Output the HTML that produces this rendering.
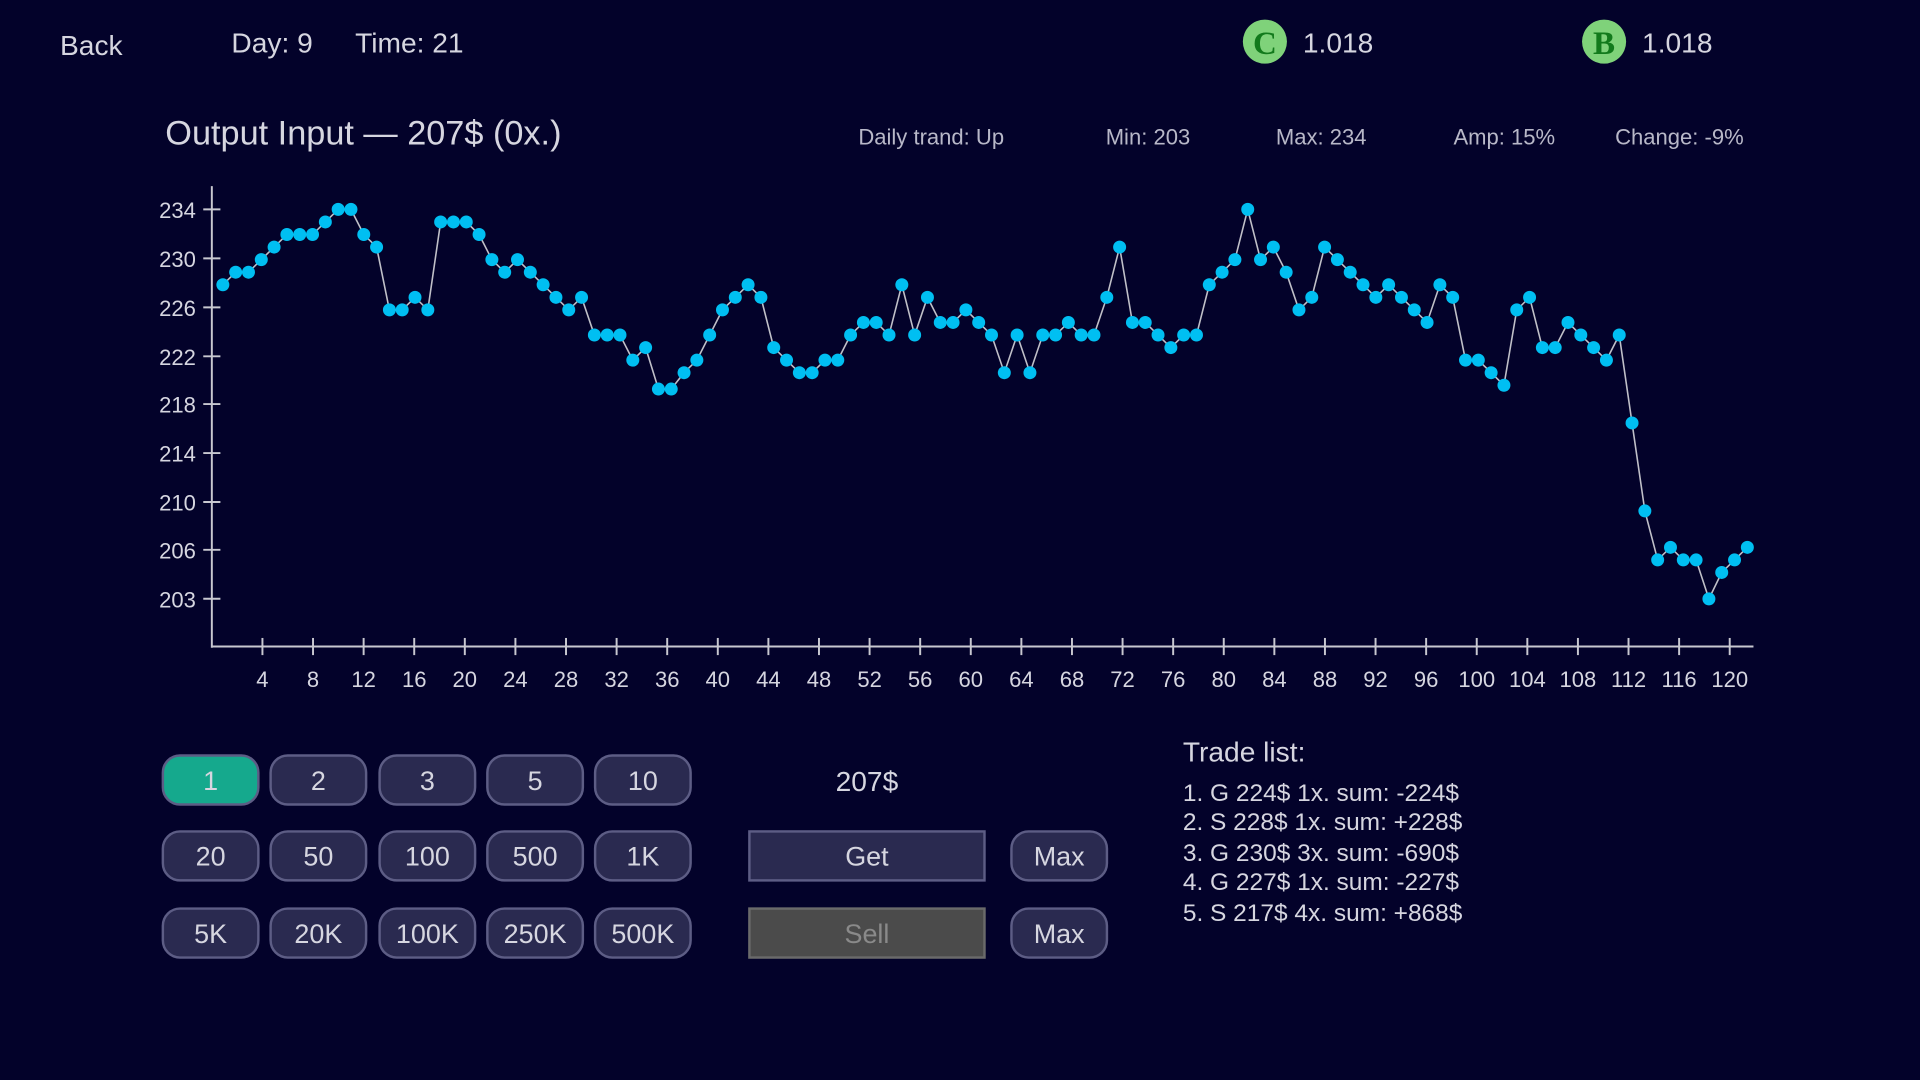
<!DOCTYPE html>
<html><head><meta charset="utf-8"><style>
html,body{margin:0;padding:0;background:#03022a;overflow:hidden}
svg{display:block}
text{font-family:"Liberation Sans",sans-serif;fill:#d6d6e0}
</style></head><body>
<svg id="s" width="1920" height="1080" viewBox="0 0 1568 882" xmlns="http://www.w3.org/2000/svg">
<rect width="1568" height="882" fill="#03022a"/>
<text x="49" y="45" font-size="23">Back</text>
<text x="189" y="43" font-size="23">Day: 9</text>
<text x="290" y="43" font-size="23">Time: 21</text>
<circle cx="1033" cy="34" r="18" fill="#7fd27a"/>
<text x="1033" y="44" font-size="27" font-weight="bold" text-anchor="middle" style="fill:#127a1c;font-family:'Liberation Serif',serif">C</text>
<text x="1064" y="43" font-size="23">1.018</text>
<circle cx="1310" cy="34" r="18" fill="#7fd27a"/>
<text x="1310" y="44" font-size="27" font-weight="bold" text-anchor="middle" style="fill:#127a1c;font-family:'Liberation Serif',serif">B</text>
<text x="1341" y="43" font-size="23">1.018</text>
<text x="135" y="118" font-size="28">Output Input — 207$ (0x.)</text>
<g font-size="18" style="fill:#b8b8c8">
<text x="701" y="118" style="fill:#b8b8c8">Daily trand: Up</text>
<text x="903" y="118" style="fill:#b8b8c8">Min: 203</text>
<text x="1042" y="118" style="fill:#b8b8c8">Max: 234</text>
<text x="1187" y="118" style="fill:#b8b8c8">Amp: 15%</text>
<text x="1319" y="118" style="fill:#b8b8c8">Change: -9%</text>
</g>
<g id="axes" stroke="#c8c8d0" stroke-width="1.6" fill="none">
<line x1="173" y1="152" x2="173" y2="529"/>
<line x1="173" y1="528" x2="1432" y2="528"/>
</g>
<g id="ticks"></g>
<g id="series"></g>
<g id="btns"></g>
<text x="708" y="646" font-size="23" text-anchor="middle">207$</text>
<rect x="612" y="679" width="192" height="40" fill="#2a2a50" stroke="#5d5d85" stroke-width="2"/>
<text x="708" y="707" font-size="22" text-anchor="middle">Get</text>
<rect x="612" y="742" width="192" height="40" fill="#4b4b4b" stroke="#6a6a6a" stroke-width="2"/>
<text x="708" y="770" font-size="22" text-anchor="middle" style="fill:#8a8a8a">Sell</text>
<text x="966" y="622" font-size="23">Trade list:</text>
<g font-size="20">
<text x="966" y="654">1. G 224$ 1x. sum: -224$</text>
<text x="966" y="678">2. S 228$ 1x. sum: +228$</text>
<text x="966" y="703">3. G 230$ 3x. sum: -690$</text>
<text x="966" y="727">4. G 227$ 1x. sum: -227$</text>
<text x="966" y="752">5. S 217$ 4x. sum: +868$</text>
</g>
</svg>
<script>
var NS="http://www.w3.org/2000/svg";
function el(p,t,a,txt){var e=document.createElementNS(NS,t);for(var k in a)e.setAttribute(k,a[k]);if(txt!==undefined)e.textContent=txt;document.getElementById(p).appendChild(e);return e;}
var yl=[[234,171],[230,211],[226,251],[222,291],[218,330],[214,370],[210,410],[206,449],[203,489]];
yl.forEach(function(t){el("ticks","line",{x1:166,x2:180,y1:t[1],y2:t[1],stroke:"#c8c8d0","stroke-width":1.6});
el("ticks","text",{x:160,y:t[1]+7,"font-size":18,"text-anchor":"end"},t[0]);});
for(var i=4;i<=120;i+=4){var x=173+(i)*10.33;
el("ticks","line",{x1:x,x2:x,y1:521,y2:535,stroke:"#c8c8d0","stroke-width":1.6});
el("ticks","text",{x:x,y:561,"font-size":18,"text-anchor":"middle"},i);}
var d=[228,229,229,230,231,232,232,232,233,234,234,232,231,226,226,227,226,233,233,233,232,230,229,230,229,228,227,226,227,224,224,224,222,223,219.7,219.7,221,222,224,226,227,228,227,
223,222,221,221,222,222,224,225,225,224,228,224,227,225,225,226,225,224,221,224,221,224,224,225,224,224,227,231,225,225,224,223,224,224,228,229,230,234,230,231,229,226,227,231,
230,229,228,227,228,227,226,225,228,227,222,222,221,220,226,227,223,223,225,224,223,222,224,217,210,206.1,207.1,206.1,206.1,203,205.1,206.1,207.1];
var n=d.length,pts=[];
for(var j=0;j<n;j++){var x=182+j*(1427-182)/(n-1);var y=171+(234-d[j])*10.26;pts.push([x,y]);}
el("series","polyline",{points:pts.map(function(p){return p.join(",")}).join(" "),fill:"none",stroke:"#c0c0c8","stroke-width":1.3});
pts.forEach(function(p){el("series","circle",{cx:p[0],cy:p[1],r:5.3,fill:"#00bff2"});});
var rows=[["1","2","3","5","10"],["20","50","100","500","1K"],["5K","20K","100K","250K","500K"]];
var cx=[172,260,349,437,525],cy=[637,699,762];
rows.forEach(function(r,ri){r.forEach(function(t,ci){
el("btns","rect",{x:cx[ci]-39,y:cy[ri]-20,width:78,height:40,rx:14,fill:(ri==0&&ci==0)?"#15a98d":"#2a2a50",stroke:"#5d5d85","stroke-width":2});
el("btns","text",{x:cx[ci],y:cy[ri]+8,"font-size":22,"text-anchor":"middle"},t);});});
[699,762].forEach(function(y){el("btns","rect",{x:826,y:y-20,width:78,height:40,rx:14,fill:"#2a2a50",stroke:"#5d5d85","stroke-width":2});
el("btns","text",{x:865,y:y+8,"font-size":22,"text-anchor":"middle"},"Max");});
</script>
</body></html>
